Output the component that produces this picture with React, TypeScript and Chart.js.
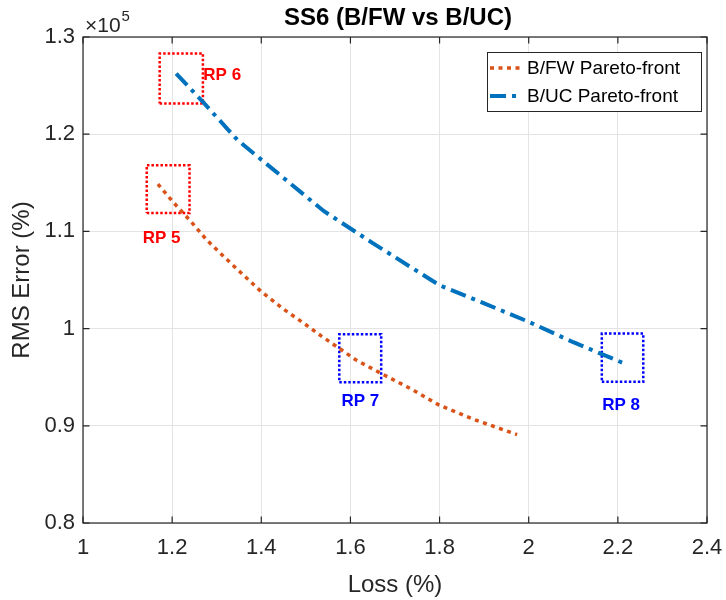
import { useEffect, useRef } from "react";
import { Chart, registerables } from "chart.js";

Chart.register(...registerables);

const FONT = "'Liberation Sans', Arial, Helvetica, sans-serif";
const AXIS_COLOR = "#262626";

// Axis ranges (RMS error is in absolute units; labels are shown as ×10^5)
const lossMin = 1;
const lossMax = 2.4;
const lossStep = 0.2;
const rmsMin = 80000;
const rmsMax = 130000;
const rmsStep = 10000;
const rmsExponent = 5;

// B/FW Pareto front
const fwLoss = [1.168, 1.203, 1.241, 1.278, 1.318, 1.36, 1.4, 1.45, 1.5, 1.535, 1.613, 1.678, 1.74, 1.799, 1.88, 1.974];
const fwRms = [114860, 112970, 111080, 109100, 107320, 105500, 103800, 102000, 100400, 99230, 96760, 95170, 93700, 92130, 90600, 89100];

// B/UC Pareto front
const ucLoss = [1.209, 1.269, 1.347, 1.45, 1.54, 1.65, 1.8, 1.9, 2.0, 2.1, 2.215];
const ucRms = [126240, 123320, 119380, 115500, 112100, 108800, 104450, 102600, 100700, 98600, 96400];

const seriesNames = ["B/FW Pareto-front", "B/UC Pareto-front"];

// Representative points: highlight boxes and their labels
const rpNames = ["RP 5", "RP 6", "RP 7", "RP 8"];
const rpColors = ["#ff0000", "#ff0000", "#0000ff", "#0000ff"];
const rpLossLo = [1.143, 1.172, 1.575, 2.164];
const rpLossHi = [1.239, 1.269, 1.669, 2.257];
const rpRmsLo = [111900, 123150, 94470, 94530];
const rpRmsHi = [116800, 128300, 99430, 99500];
const rpLabelLoss = [1.134, 1.27, 1.58, 2.165];
const rpLabelRms = [109250, 126100, 92500, 92100];

const fmt1 = (v: number) => String(parseFloat(v.toFixed(1)));

const decorations = {
  id: "decorations",
  afterDraw(chart: any) {
    const { ctx, chartArea: a, scales } = chart;
    const xs = scales.x;
    const ys = scales.y;
    ctx.save();

    // region labels
    ctx.font = `bold 17px ${FONT}`;
    ctx.textAlign = "left";
    ctx.textBaseline = "middle";
    rpNames.forEach((name, i) => {
      ctx.fillStyle = rpColors[i];
      ctx.fillText(name, xs.getPixelForValue(rpLabelLoss[i]), ys.getPixelForValue(rpLabelRms[i]));
    });

    // axes box with inward ticks
    ctx.strokeStyle = AXIS_COLOR;
    ctx.lineWidth = 1.2;
    ctx.strokeRect(a.left, a.top, a.right - a.left, a.bottom - a.top);
    const tl = 6.5;
    ctx.beginPath();
    xs.ticks.forEach((t: any) => {
      const px = xs.getPixelForValue(t.value);
      ctx.moveTo(px, a.bottom);
      ctx.lineTo(px, a.bottom - tl);
      ctx.moveTo(px, a.top);
      ctx.lineTo(px, a.top + tl);
    });
    ys.ticks.forEach((t: any) => {
      const py = ys.getPixelForValue(t.value);
      ctx.moveTo(a.left, py);
      ctx.lineTo(a.left + tl, py);
      ctx.moveTo(a.right, py);
      ctx.lineTo(a.right - tl, py);
    });
    ctx.stroke();

    const cx = (a.left + a.right) / 2;
    const cy = (a.top + a.bottom) / 2;

    // title
    ctx.fillStyle = "#000";
    ctx.font = `bold 24px ${FONT}`;
    ctx.textAlign = "center";
    ctx.textBaseline = "alphabetic";
    ctx.fillText("SS6 (B/FW vs B/UC)", cx + 3, 25);

    // axis titles
    ctx.fillStyle = AXIS_COLOR;
    ctx.font = `24px ${FONT}`;
    ctx.fillText("Loss (%)", cx, 592);
    ctx.save();
    ctx.translate(29, cy);
    ctx.rotate(-Math.PI / 2);
    ctx.fillText("RMS Error (%)", 0, 0);
    ctx.restore();

    // exponent marker
    ctx.textAlign = "left";
    ctx.font = `21px ${FONT}`;
    ctx.fillText("\u00d710", a.left + 2, 32);
    const w = ctx.measureText("\u00d710").width;
    ctx.font = `15px ${FONT}`;
    ctx.fillText(String(rmsExponent), a.left + 2 + w + 1, 21);

    // legend
    const lx = 487;
    const ly = 52;
    const lw = 214;
    const lh = 59;
    ctx.fillStyle = "#fff";
    ctx.fillRect(lx, ly, lw, lh);
    ctx.strokeStyle = AXIS_COLOR;
    ctx.lineWidth = 1;
    ctx.strokeRect(lx + 0.5, ly + 0.5, lw, lh);
    [0, 1].forEach((i) => {
      const ds = chart.data.datasets[i];
      const y = ly + 16 + i * 28;
      ctx.save();
      ctx.strokeStyle = ds.borderColor;
      ctx.lineWidth = ds.borderWidth;
      ctx.setLineDash(ds.borderDash);
      ctx.beginPath();
      ctx.moveTo(lx + 3, y);
      ctx.lineTo(lx + 34, y);
      ctx.stroke();
      ctx.restore();
      ctx.fillStyle = "#000";
      ctx.font = `19px ${FONT}`;
      ctx.textBaseline = "middle";
      ctx.fillText(ds.label, lx + 40, y + 1);
    });

    ctx.restore();
  },
};

export default function App() {
  const ref = useRef<HTMLCanvasElement | null>(null);

  useEffect(() => {
    if (!ref.current) return;

    const boxSets = rpNames.map((name, i) => ({
      label: name,
      data: [
        { x: rpLossLo[i], y: rpRmsLo[i] },
        { x: rpLossHi[i], y: rpRmsLo[i] },
        { x: rpLossHi[i], y: rpRmsHi[i] },
        { x: rpLossLo[i], y: rpRmsHi[i] },
        { x: rpLossLo[i], y: rpRmsLo[i] },
      ],
      showLine: true,
      borderColor: rpColors[i],
      borderWidth: 2.5,
      borderDash: [2.5, 2],
      pointRadius: 0,
      fill: false,
    }));

    const chart = new Chart(ref.current, {
      type: "scatter",
      data: {
        datasets: [
          {
            label: seriesNames[0],
            data: fwLoss.map((x, i) => ({ x, y: fwRms[i] })),
            showLine: true,
            borderColor: "#D95319",
            borderWidth: 3.5,
            borderDash: [4, 4.5],
            pointRadius: 0,
            fill: false,
          },
          {
            label: seriesNames[1],
            data: ucLoss.map((x, i) => ({ x, y: ucRms[i] })),
            showLine: true,
            borderColor: "#0072BD",
            borderWidth: 4,
            borderDash: [16, 6, 4, 6],
            pointRadius: 0,
            fill: false,
          },
          ...boxSets,
        ] as any,
      },
      options: {
        animation: false,
        responsive: false,
        devicePixelRatio: 1,
        layout: { padding: { top: 37, right: 19, left: 0, bottom: 0 } },
        plugins: {
          legend: { display: false },
          tooltip: { enabled: false },
          title: { display: false },
        },
        elements: { line: { tension: 0 }, point: { radius: 0 } },
        scales: {
          x: {
            type: "linear",
            min: lossMin,
            max: lossMax,
            ticks: {
              stepSize: lossStep,
              padding: 12,
              color: AXIS_COLOR,
              font: { family: FONT, size: 22 },
              callback: (v: any) => fmt1(Number(v)),
            },
            grid: { color: "#e4e4e4", drawTicks: false },
            border: { display: false },
            afterFit: (s: any) => {
              s.height = 77;
              s.paddingLeft = 0;
              s.paddingRight = 0;
            },
          },
          y: {
            type: "linear",
            min: rmsMin,
            max: rmsMax,
            ticks: {
              stepSize: rmsStep,
              padding: 8,
              color: AXIS_COLOR,
              font: { family: FONT, size: 22 },
              callback: (v: any) => fmt1(Number(v) / Math.pow(10, rmsExponent)),
            },
            grid: { color: "#e4e4e4", drawTicks: false },
            border: { display: false },
            afterFit: (s: any) => {
              s.width = 83;
              s.paddingTop = 0;
              s.paddingBottom = 0;
            },
          },
        },
      } as any,
      plugins: [decorations],
    });

    return () => chart.destroy();
  }, []);

  return (
    <div style={{ position: "absolute", left: 0, top: 0, width: 726, height: 600, background: "#fff" }}>
      <canvas ref={ref} width={726} height={600} style={{ display: "block" }} />
    </div>
  );
}
